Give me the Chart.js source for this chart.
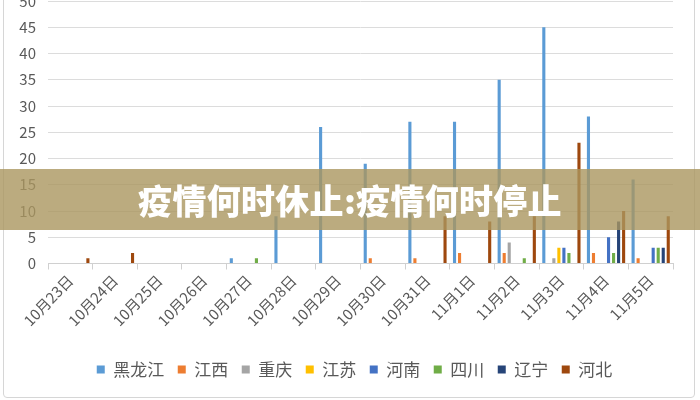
<!DOCTYPE html>
<html>
<head>
<meta charset="utf-8">
<script src="https://cdn.jsdelivr.net/npm/chart.js@4/dist/chart.umd.min.js"></script>
<style>
    body { margin: 0; background: #fff; }
    #wrap { position: relative; width: 700px; height: 400px; overflow: hidden; }
    #frame { position: absolute; left: 3px; top: -10px; width: 690px; height: 406px; border: 1px solid #d6d6d6; border-radius: 4px; pointer-events: none; }
    #banner {
        position: absolute; left: 0; top: 169px; width: 700px; height: 61px;
        background: rgba(170, 150, 95, 0.8);
        color: #fff; font-family: "Noto Sans CJK SC", sans-serif; font-weight: 900;
        font-size: 34px; line-height: 61px; text-align: center; letter-spacing: 0.3px;
    }
</style>
</head>
<body>
<div id="wrap">
    <canvas id="yiqingChart" width="700" height="400"></canvas>
    <div id="frame"></div>
    <div id="banner">疫情何时休止:疫情何时停止</div>
</div>
<script>
const datumi = ['10月23日', '10月24日', '10月25日', '10月26日', '10月27日', '10月28日', '10月29日',
    '10月30日', '10月31日', '11月1日', '11月2日', '11月3日', '11月4日', '11月5日'];

const heilongjiang = [0, 0, 0, 0, 1, 9, 26, 19, 27, 27, 35, 45, 28, 16];
const jiangxi      = [0, 0, 0, 0, 0, 0, 0, 1, 1, 2, 2, 0, 2, 1];
const chongqing    = [0, 0, 0, 0, 0, 0, 0, 0, 0, 0, 4, 1, 0, 0];
const jiangsu      = [0, 0, 0, 0, 0, 0, 0, 0, 0, 0, 0, 3, 0, 0];
const henan        = [0, 0, 0, 0, 0, 0, 0, 0, 0, 0, 0, 3, 5, 3];
const sichuan      = [0, 0, 0, 0, 1, 0, 0, 0, 0, 0, 1, 2, 2, 3];
const liaoning     = [0, 0, 0, 0, 0, 0, 0, 0, 0, 0, 0, 0, 8, 3];
const hebei        = [1, 2, 0, 0, 0, 0, 0, 0, 9, 8, 9, 23, 10, 9];

const yTicks = [0, 5, 10, 15, 20, 25, 30, 35, 40, 45, 50];

const font = 'Noto Sans CJK SC';
const siva = '#595959';

function serija(naziv, podaci, boja) {
    return {
        label: naziv,
        data: podaci,
        backgroundColor: boja,
        borderWidth: 0,
        categoryPercentage: 0.9,
        barPercentage: 0.62
    };
}

// legenda je u originalu centrirana na cijeloj slici, ne samo iznad grafa
const pomakLegende = {
    id: 'pomakLegende',
    afterLayout(chart) {
        chart.legend.left += 18;
        chart.legend.right += 18;
    }
};

const ctx = document.getElementById('yiqingChart').getContext('2d');

const yiqingChart = new Chart(ctx, {
    type: 'bar',
    data: {
        labels: datumi,
        datasets: [
            serija('黑龙江', heilongjiang, '#5B9BD5'),
            serija('江西', jiangxi, '#ED7D31'),
            serija('重庆', chongqing, '#A5A5A5'),
            serija('江苏', jiangsu, '#FFC000'),
            serija('河南', henan, '#4472C4'),
            serija('四川', sichuan, '#70AD47'),
            serija('辽宁', liaoning, '#264478'),
            serija('河北', hebei, '#9E480E')
        ]
    },
    plugins: [pomakLegende],
    options: {
        responsive: false,
        animation: false,
        layout: { padding: { top: 1, right: 27, bottom: 12, left: 0 } },
        plugins: {
            tooltip: { enabled: false },
            legend: {
                position: 'bottom',
                labels: {
                    boxWidth: 8,
                    boxHeight: 8,
                    padding: 13.5,
                    color: siva,
                    font: { family: font, size: 17 }
                }
            }
        },
        scales: {
            x: {
                grid: {
                    offset: true,
                    drawOnChartArea: false,
                    drawTicks: true,
                    tickLength: 6,
                    color: '#d0d0d0'
                },
                border: { display: true, color: '#d0d0d0' },
                ticks: {
                    color: siva,
                    font: { family: font, size: 15 },
                    maxRotation: 46,
                    minRotation: 46,
                    autoSkip: false,
                    padding: 2
                },
                afterFit: (skala) => {
                    skala.height = 84;
                    skala.paddingLeft = 0;
                    skala.paddingRight = 0;
                }
            },
            y: {
                min: 0,
                max: 50,
                afterBuildTicks: (skala) => {
                    skala.ticks = yTicks.map(v => ({ value: v }));
                },
                grid: { color: '#dcdcdc', drawTicks: false },
                border: { display: false },
                ticks: {
                    color: siva,
                    font: { family: font, size: 15 },
                    padding: 12
                },
                afterFit: (skala) => {
                    skala.width = 48;
                    skala.paddingTop = 0;
                    skala.paddingBottom = 0;
                }
            }
        }
    }
});
</script>
</body>
</html>
